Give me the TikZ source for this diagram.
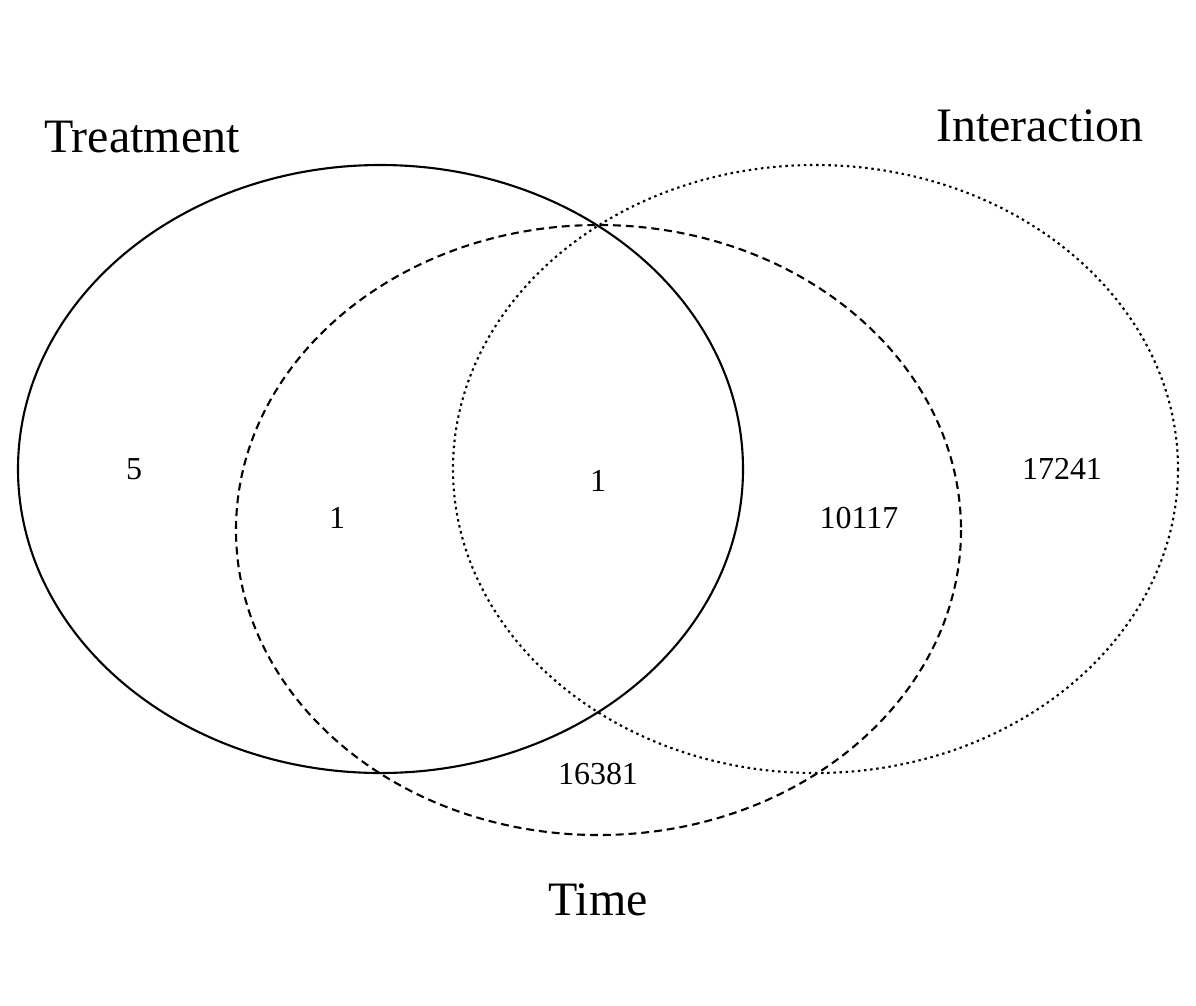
\documentclass[tikz,border=0pt]{standalone}
\usepackage{fontspec}
\setmainfont{Liberation Serif}
\begin{document}
\begin{tikzpicture}[x=0.02cm,y=-0.02cm,
  set/.style={line width=1.2pt},
  big/.style={font=\fontsize{27.3}{31}\selectfont, inner sep=0pt},
  num/.style={font=\fontsize{18.2}{21}\selectfont, inner sep=0pt}]
\useasboundingbox (0,0) rectangle (1196,1005);
\draw[set] (380.5,469) ellipse [x radius=362.5, y radius=304];
\draw[set, dash pattern=on 4.5pt off 2.8pt] (598.5,530) ellipse [x radius=362.5, y radius=305];
\draw[set, dash pattern=on 1.4pt off 2.1pt] (815.5,469) ellipse [x radius=362.5, y radius=304];
\node[big] (tr) at (142,137) {Treatment};
\node[big] (in) at (1040,126) {Interaction};
\node[big] (ti) at (598,900) {Time};
\node[num] (a) at (134,469) {5};
\node[num] (b) at (337,518) {1};
\node[num] (c) at (598,481) {1};
\node[num] (d) at (859,518) {10117};
\node[num] (e) at (1062,469) {17241};
\node[num] (f) at (598,774) {16381};
\end{tikzpicture}
\end{document}
